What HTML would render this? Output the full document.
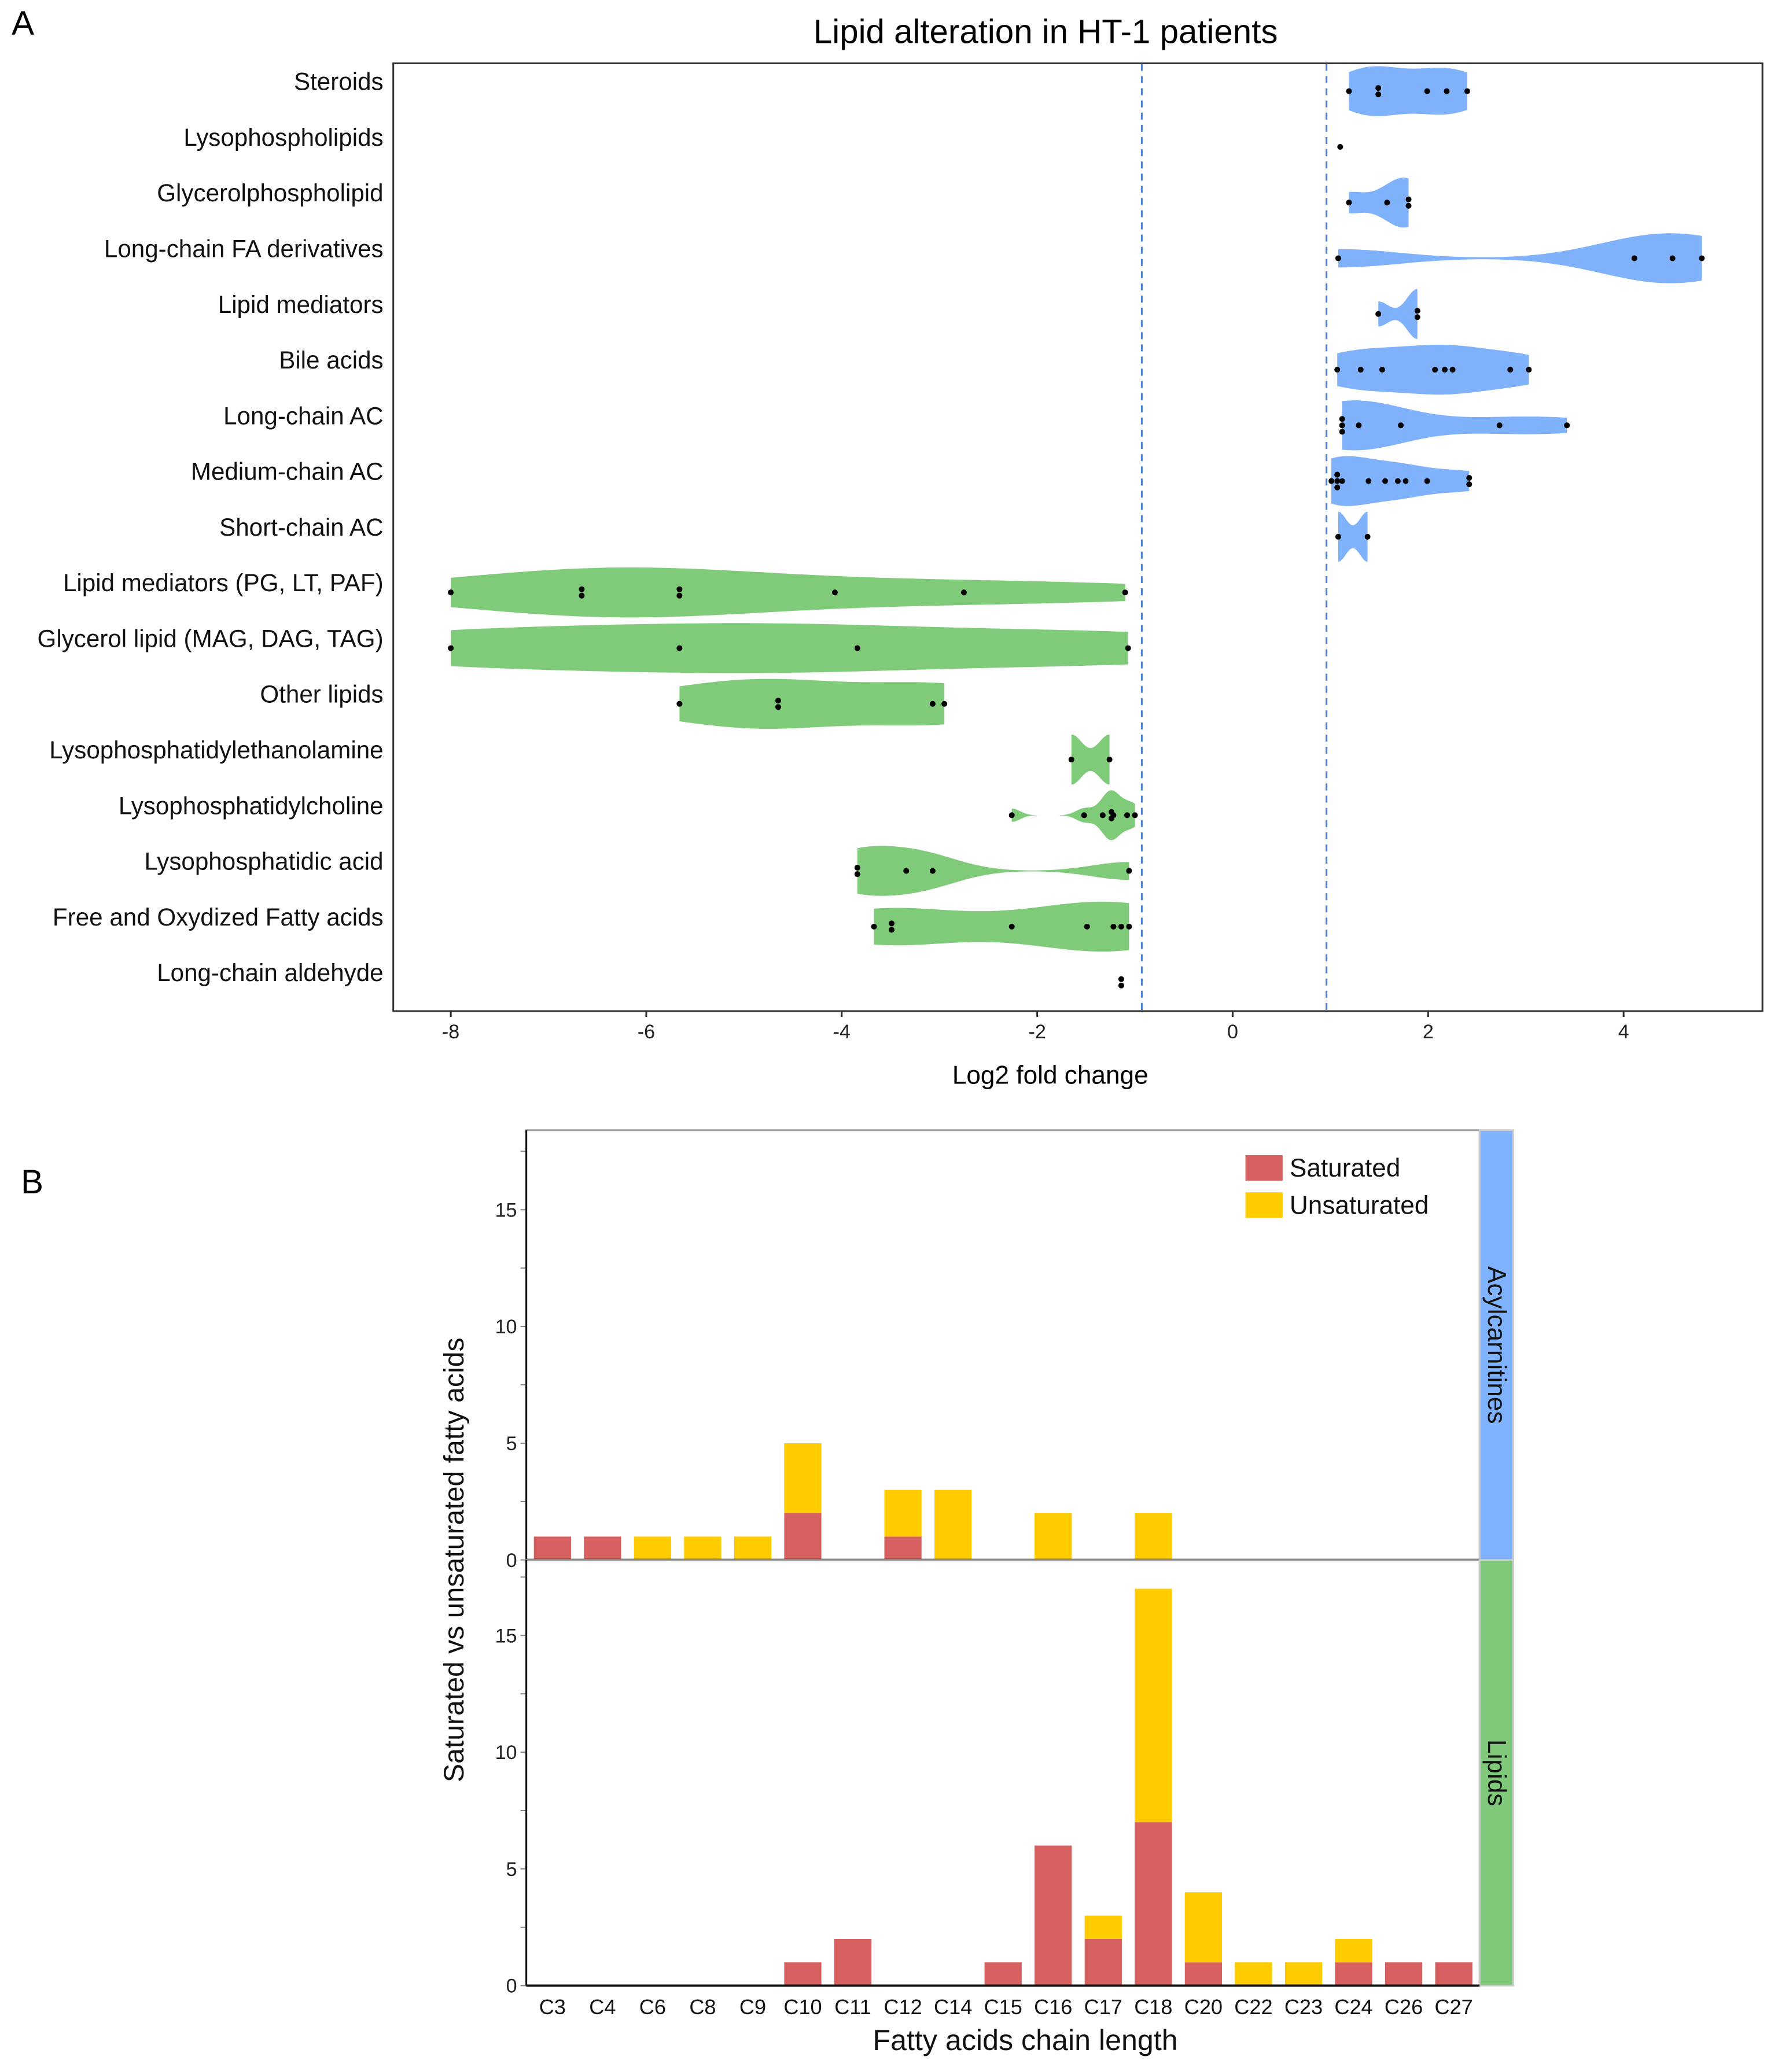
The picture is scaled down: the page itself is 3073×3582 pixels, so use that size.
<!DOCTYPE html>
<html><head><meta charset="utf-8"><style>
html,body{margin:0;padding:0;background:#fff;}
svg{display:block;font-family:"Liberation Sans",sans-serif;}
</style></head><body>
<svg id="s" width="3073" height="3582" viewBox="0 0 3073 3582" xmlns="http://www.w3.org/2000/svg">
<rect width="3073" height="3582" fill="#fff"/>
<g transform="scale(1.004)">
<text x="20" y="60" font-size="58">A</text>
<text x="1800" y="74" font-size="58" text-anchor="middle">Lipid alteration in HT-1 patients</text>
<rect x="677" y="109" width="2357" height="1632" fill="none" stroke="#333" stroke-width="3"/>
<text x="1808" y="1866" font-size="44" text-anchor="middle">Log2 fold change</text>
<text x="36" y="2055" font-size="58">B</text>
<g id="ga"></g><g id="gb"></g>
</g>
</svg>
<script>
// ---- Panel A data ----
const categories = ["Steroids","Lysophospholipids","Glycerolphospholipid","Long-chain FA derivatives","Lipid mediators","Bile acids","Long-chain AC","Medium-chain AC","Short-chain AC","Lipid mediators (PG, LT, PAF)","Glycerol lipid (MAG, DAG, TAG)","Other lipids","Lysophosphatidylethanolamine","Lysophosphatidylcholine","Lysophosphatidic acid","Free and Oxydized Fatty acids","Long-chain aldehyde"];
const values = [
 [1.19,1.49,1.49,1.99,2.19,2.4],
 [1.1],
 [1.19,1.58,1.8,1.8],
 [1.08,4.11,4.5,4.8],
 [1.49,1.89,1.89],
 [1.07,1.31,1.53,2.07,2.17,2.25,2.84,3.03],
 [1.12,1.12,1.12,1.29,1.72,2.73,3.42],
 [1.01,1.07,1.07,1.07,1.12,1.39,1.56,1.69,1.77,1.99,2.42,2.42],
 [1.08,1.38],
 [-8.0,-6.66,-6.66,-5.66,-5.66,-4.07,-2.75,-1.1],
 [-8.0,-5.66,-3.84,-1.07],
 [-5.66,-4.65,-4.65,-3.07,-2.95],
 [-1.65,-1.26],
 [-2.26,-1.52,-1.33,-1.24,-1.24,-1.22,-1.08,-1.0],
 [-3.84,-3.84,-3.34,-3.07,-1.06],
 [-3.67,-3.49,-3.49,-2.26,-1.49,-1.22,-1.14,-1.06],
 [-1.14,-1.14]
];
const xTicks = [-8,-6,-4,-2,0,2,4];
const thresholds = [-0.93,0.96];

// ---- Panel B data ----
const chains = ["C3","C4","C6","C8","C9","C10","C11","C12","C14","C15","C16","C17","C18","C20","C22","C23","C24","C26","C27"];
const acylSat   = [1,1,0,0,0,2,0,1,0,0,0,0,0,0,0,0,0,0,0];
const acylUnsat = [0,0,1,1,1,3,0,2,3,0,2,0,2,0,0,0,0,0,0];
const lipSat    = [0,0,0,0,0,1,2,0,0,1,6,2,7,1,0,0,1,1,1];
const lipUnsat  = [0,0,0,0,0,0,0,0,0,0,0,1,10,3,1,1,1,0,0];
const yTicksB = [0,5,10,15];

const NS="http://www.w3.org/2000/svg";
function mk(tag,attrs,parent){const e=document.createElementNS(NS,tag);for(const k in attrs)e.setAttribute(k,attrs[k]);parent.appendChild(e);return e;}

// ---- Panel A ----
const ga=document.getElementById('ga');
const xA=v=>2122+v*168.25;
const yA=i=>157+i*95.9;
thresholds.forEach(t=>{
 const l=mk('line',{x1:xA(t),x2:xA(t),y1:110,y2:1740,stroke:'#4a7fd6','stroke-width':3,'stroke-dasharray':'12,9'},ga);
 
 
});
xTicks.forEach(t=>{
 mk('line',{x1:xA(t),x2:xA(t),y1:1741,y2:1751,stroke:'#333','stroke-width':3},ga);
 const tx=mk('text',{x:xA(t),y:1788,'font-size':34,'text-anchor':'middle',fill:'#222'},ga);
 tx.textContent=t;
 
 
});
function kde(arr){
 const n=arr.length;const m=arr.reduce((a,b)=>a+b,0)/n;
 const sd=Math.sqrt(arr.reduce((a,b)=>a+(b-m)*(b-m),0)/Math.max(1,n-1));
 const s=[...arr].sort((a,b)=>a-b);
 const q=p=>{const h=(n-1)*p,lo=Math.floor(h),hi=Math.ceil(h);return s[lo]+(s[hi]-s[lo])*(h-lo);};
 const iqr=q(0.75)-q(0.25);
 let lo=Math.min(sd,iqr/1.34);if(!(lo>0))lo=sd;
 const bw=0.9*lo*Math.pow(n,-0.2);
 return {bw,min:s[0],max:s[n-1]};
}
categories.forEach((c,i)=>{
 const cy=yA(i);
 const lab=mk('text',{x:660,y:cy-2,'font-size':42,'text-anchor':'end',fill:'#111'},ga);
 lab.textContent=c;
 
 
 const arr=values[i];
 const pos=arr.reduce((a,b)=>a+b,0)>0;
 const col=pos?'#7fb2fa':'#7fcb7a';
 const k=kde(arr);
 if(arr.length>1 && k.bw>0 && k.max>k.min){
  const N=120,pts=[],d=[];
  for(let j=0;j<=N;j++){const x=k.min+(k.max-k.min)*j/N;let s=0;arr.forEach(v=>{const z=(x-v)/k.bw;s+=Math.exp(-0.5*z*z);});pts.push(x);d.push(s);}
  const mx=Math.max(...d);
  let top=[],bot=[];
  pts.forEach((x,j)=>{const w=43*d[j]/mx;top.push(xA(x).toFixed(1)+','+(cy-w).toFixed(1));bot.unshift(xA(x).toFixed(1)+','+(cy+w).toFixed(1));});
  const p=mk('polygon',{points:top.concat(bot).join(' '),fill:col},ga);
  
  
 }
 const seen={};
 arr.forEach(v=>{const key=v.toFixed(2);seen[key]=(seen[key]||0)+1;});
 const used={};
 arr.forEach(v=>{
  const key=v.toFixed(2);const cnt=seen[key];used[key]=(used[key]||0);
  const off=(used[key]-(cnt-1)/2)*11;used[key]++;
  const dt=mk('circle',{cx:xA(v),cy:cy+off,r:5,fill:'#000'},ga);
  
  
 });
});

// ---- Panel B ----
const gb=document.getElementById('gb');
const L=906,R=2547,unit=40.2;
const xB=i=>951+i*86.2;
const panels=[{y0:2686,top:1946,sat:acylSat,uns:acylUnsat,strip:'#80b3ff',name:'Acylcarnitines'},{y0:3419,top:2686,sat:lipSat,uns:lipUnsat,strip:'#80c97a',name:'Lipids'}];
panels.forEach((P,pi)=>{
 const yB=v=>P.y0-v*unit;
 mk('rect',{x:L,y:P.top,width:R-L,height:P.y0-P.top,fill:'#fff',stroke:'#999','stroke-width':3},gb);
 const st=mk('rect',{x:R,y:P.top,width:58,height:P.y0-P.top,fill:P.strip,stroke:'#ccc','stroke-width':3},gb);
 
 
 const sx=R+29,sy=(P.top+P.y0)/2;
 const stt=mk('text',{x:sx,y:sy,'font-size':44,'text-anchor':'middle','dominant-baseline':'central',transform:`rotate(90 ${sx} ${sy})`,fill:'#111'},gb);
 stt.textContent=P.name;
 
 
 for(let v=0;v<=17.5;v+=2.5){mk('line',{x1:L-10,x2:L,y1:yB(v),y2:yB(v),stroke:'#888','stroke-width':2},gb);}
 yTicksB.forEach(t=>{
  const tx=mk('text',{x:L-16,y:yB(t)+12,'font-size':34,'text-anchor':'end',fill:'#222'},gb);
  tx.textContent=t;
  
  
 });
 chains.forEach((c,i)=>{
  const s=P.sat[i],u=P.uns[i];
  if(s>0){const r=mk('rect',{x:xB(i)-32,y:yB(s),width:64,height:s*unit,fill:'#d65f5f'},gb);
   
   }
  if(u>0){const r=mk('rect',{x:xB(i)-32,y:yB(s+u),width:64,height:u*unit,fill:'#ffcc00'},gb);
   
   }
 });
 mk('line',{x1:L,x2:R,y1:P.y0,y2:P.y0,stroke:'#111','stroke-width':4},gb);
 mk('line',{x1:L,x2:L,y1:P.top,y2:P.y0,stroke:'#111','stroke-width':3},gb);
});
chains.forEach((c,i)=>{
 const tx=mk('text',{x:xB(i),y:3468,'font-size':36,'text-anchor':'middle',fill:'#111'},gb);
 tx.textContent=c;
 
 
});
const xt=mk('text',{x:1765,y:3530,'font-size':50,'text-anchor':'middle',fill:'#111'},gb);
xt.textContent='Fatty acids chain length';


const yt=mk('text',{x:782,y:2686,'font-size':48,'text-anchor':'middle','dominant-baseline':'central',transform:'rotate(-90 782 2686)',fill:'#111'},gb);
yt.textContent='Saturated vs unsaturated fatty acids';


[['Saturated','#d65f5f',1989],['Unsaturated','#ffcc00',2053]].forEach(([n,c,y])=>{
 const r=mk('rect',{x:2144,y:y,width:64,height:44,fill:c},gb);
 
 
 const t=mk('text',{x:2220,y:y+37,'font-size':44,fill:'#111'},gb);
 t.textContent=n;
 
 
});
</script>
</body></html>
